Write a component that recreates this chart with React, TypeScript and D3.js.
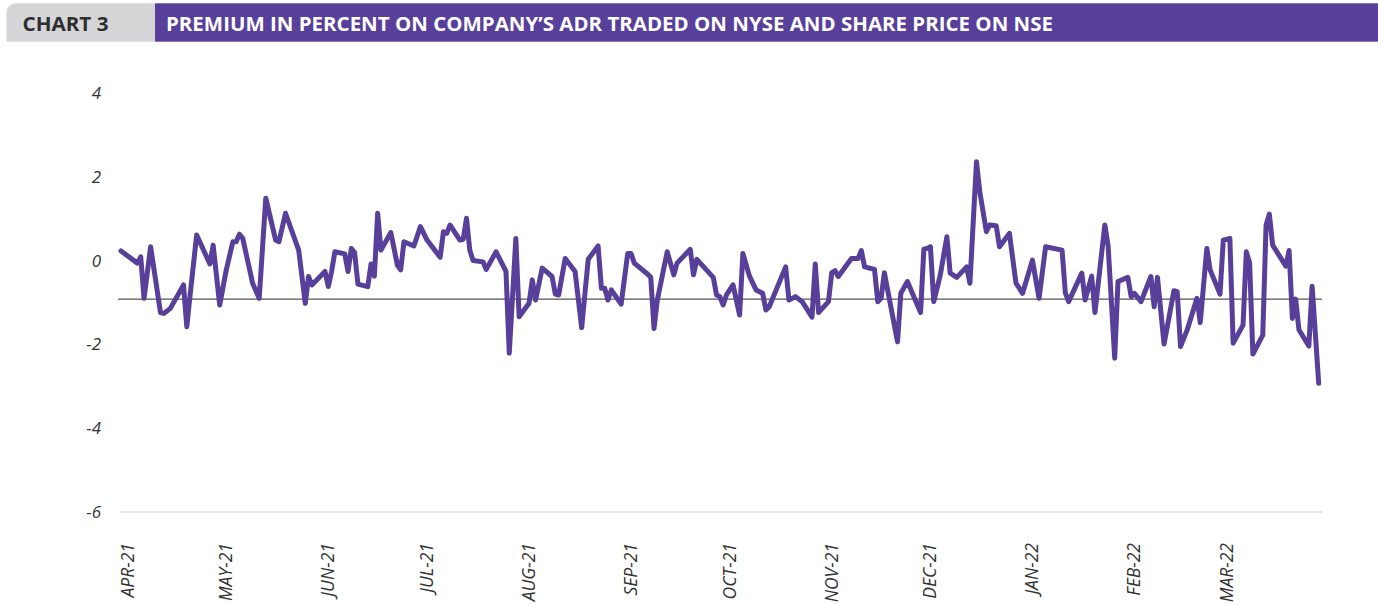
import React from "react";
import * as d3 from "d3";

// Days elapsed since 1 Apr 2021 (vertices of the series) and premium in percent
const dayOffsets: number[] = [
  0, 5, 6, 7, 9, 12, 13, 15, 19, 20, 21, 23, 27, 28, 30, 32, 34, 35, 36, 37,
  40, 42, 44, 47, 48, 50, 54, 56, 57, 58, 62, 63, 64, 65, 68, 69, 70, 71, 72, 75,
  76, 77, 78, 79, 82, 84, 85, 86, 89, 91, 93, 97, 98, 99, 100, 103, 104, 105, 106, 107,
  110, 111, 114, 117, 118, 120, 121, 124, 125, 126, 128, 131, 132, 133, 135, 138, 140, 142, 145, 146,
  147, 148, 149, 152, 154, 155, 156, 160, 161, 162, 163, 166, 168, 169, 173, 174, 175, 180, 181, 182,
  183, 184, 186, 188, 189, 191, 193, 195, 196, 197, 202, 203, 205, 207, 208, 210, 211, 212, 215, 216,
  217, 218, 222, 224, 225, 226, 229, 230, 231, 232, 233, 236, 237, 239, 243, 244, 245, 246, 247, 249,
  251, 252, 254, 257, 258, 260, 261, 263, 264, 266, 267, 270, 272, 274, 277, 279, 281, 286, 287, 288,
  292, 293, 295, 296, 299, 300, 302, 303, 306, 307, 308, 310, 313, 314, 315, 317, 320, 321, 322, 324,
  327, 328, 330, 331, 334, 335, 337, 338, 341, 342, 343, 344, 347, 348, 349, 350, 354, 355, 356, 357,
  358, 361, 362, 364,
];
const premium: number[] = [
  0.23, -0.06, 0.09, -0.9, 0.33, -1.24, -1.26, -1.14, -0.58, -1.58, -0.82, 0.61, -0.08, 0.37, -1.06, -0.22, 0.45, 0.45, 0.63, 0.53,
  -0.54, -0.9, 1.49, 0.49, 0.45, 1.13, 0.25, -1.02, -0.38, -0.58, -0.26, -0.62, -0.26, 0.21, 0.16, -0.26, 0.29, 0.19, -0.56, -0.62,
  -0.08, -0.37, 1.13, 0.25, 0.67, -0.11, -0.22, 0.45, 0.35, 0.81, 0.49, 0.08, 0.69, 0.65, 0.85, 0.49, 0.51, 1.01, 0.25, 0.0,
  -0.03, -0.21, 0.21, -0.26, -2.21, 0.53, -1.34, -1.02, -0.46, -0.94, -0.18, -0.38, -0.8, -0.82, 0.05, -0.26, -1.6, 0.03, 0.35, -0.66,
  -0.66, -0.94, -0.7, -1.04, 0.17, 0.17, -0.06, -0.32, -0.4, -1.62, -0.94, 0.21, -0.34, -0.06, 0.27, -0.34, 0.03, -0.4, -0.82, -0.86,
  -1.06, -0.82, -0.58, -1.3, 0.17, -0.37, -0.7, -0.78, -1.18, -1.1, -0.15, -0.94, -0.86, -0.98, -1.1, -1.35, -0.08, -1.24, -0.98, -0.29,
  -0.24, -0.38, 0.05, 0.05, 0.24, -0.15, -0.21, -0.98, -0.9, -0.29, -0.7, -1.94, -0.78, -0.5, -1.24, 0.27, 0.29, 0.33, -0.98, -0.34,
  0.57, -0.3, -0.4, -0.15, -0.54, 2.36, 1.64, 0.69, 0.85, 0.83, 0.33, 0.65, -0.54, -0.78, 0.01, -0.9, 0.33, 0.25, -0.77, -0.98,
  -0.3, -0.94, -0.37, -1.24, 0.85, 0.35, -2.33, -0.5, -0.4, -0.86, -0.78, -0.98, -0.38, -1.1, -0.4, -1.99, -0.72, -0.74, -2.05, -1.66,
  -0.9, -1.48, 0.29, -0.22, -0.8, 0.49, 0.53, -1.97, -1.54, 0.21, -0.05, -2.23, -1.78, 0.85, 1.11, 0.37, -0.13, 0.24, -1.38, -0.92,
  -1.65, -2.04, -0.61, -2.93,
];
const yTicks: number[] = [4, 2, 0, -2, -4, -6];
const monthLabels: string[] = [
  "APR-21", "MAY-21", "JUN-21", "JUL-21", "AUG-21", "SEP-21",
  "OCT-21", "NOV-21", "DEC-21", "JAN-22", "FEB-22", "MAR-22",
];
const referenceLevel = -0.92;
const chartNumber = "CHART 3";
const chartTitle =
  "PREMIUM IN PERCENT ON COMPANY\u2019S ADR TRADED ON NYSE AND SHARE PRICE ON NSE";

const W = 1378;
const H = 604;
const PURPLE = "#573f9a";

export default function App() {
  const start = new Date(2021, 3, 1);
  const end = new Date(2022, 3, 1);
  const x = d3.scaleTime().domain([start, end]).range([121, 1322]);
  const y = d3.scaleLinear().domain([-6, 4]).range([512, 93]);

  const data = dayOffsets.map((d, i) => ({
    date: d3.timeDay.offset(start, d),
    v: premium[i],
  }));
  const line = d3
    .line<{ date: Date; v: number }>()
    .x((d) => x(d.date))
    .y((d) => y(d.v));

  const months = d3.timeMonth.range(start, end);

  return (
    <svg
      width={W}
      height={H}
      style={{ position: "absolute", left: 0, top: 0, display: "block" }}
    >
      <rect x={0} y={0} width={W} height={H} fill="#fff" />
      {/* header */}
      <path
        d={`M6.5,41.7 L6.5,14 Q6.5,3.3 17,3.3 L155,3.3 L155,41.7 Z`}
        fill="#d6d6d8"
      />
      <rect x={155} y={3.3} width={W - 155} height={38.4} fill={PURPLE} />
      <text
        x={22.5}
        y={31}
        fontFamily="'Open Sans', sans-serif"
        fontWeight={700}
        fontSize={19}
        fill="#2e2e2e"
        textLength={86}
        lengthAdjust="spacingAndGlyphs"
      >
        {chartNumber}
      </text>
      <text
        x={166}
        y={31}
        fontFamily="'Open Sans', sans-serif"
        fontWeight={700}
        fontSize={19}
        fill="#fff"
        textLength={887}
        lengthAdjust="spacingAndGlyphs"
      >
        {chartTitle}
      </text>

      {/* y labels */}
      {yTicks.map((t) => (
        <text
          key={t}
          x={101}
          y={y(t)}
          dy="0.35em"
          textAnchor="end"
          fontFamily="'Open Sans', sans-serif"
          fontStyle="italic"
          fontSize={17}
          fill="#333"
        >
          {t}
        </text>
      ))}

      {/* bottom axis line */}
      <line x1={120} x2={1322} y1={y(-6)} y2={y(-6)} stroke="#dcdcdc" strokeWidth={1.5} />

      {/* month labels */}
      {months.map((m, i) => (
        <text
          key={i}
          transform={`translate(${x(m) + 6.5},543) rotate(-90)`}
          dy="0.35em"
          textAnchor="end"
          fontFamily="'Open Sans', sans-serif"
          fontStyle="italic"
          fontSize={17.5}
          fill="#333"
        >
          {monthLabels[i]}
        </text>
      ))}

      {/* reference line */}
      <line
        x1={118}
        x2={1322}
        y1={y(referenceLevel)}
        y2={y(referenceLevel)}
        stroke="#555"
        strokeWidth={1.2}
      />

      {/* series */}
      <path
        d={line(data) || ""}
        fill="none"
        stroke={PURPLE}
        strokeWidth={5}
        strokeLinejoin="round"
        strokeLinecap="round"
      />
    </svg>
  );
}
